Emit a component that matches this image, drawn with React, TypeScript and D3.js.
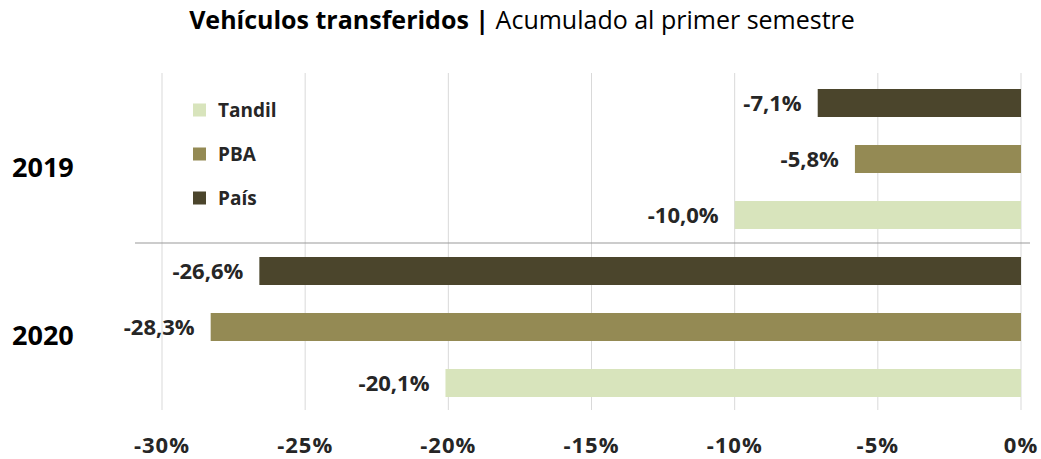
import React from "react";
import * as d3 from "d3";

// Data
const years = ["2019", "2020"];
const series = ["País", "PBA", "Tandil"];
const legendOrder = ["Tandil", "PBA", "País"];
const values2019 = [-7.1, -5.8, -10.0];
const values2020 = [-26.6, -28.3, -20.1];
const xTicks = [-30, -25, -20, -15, -10, -5, 0];

const colors: Record<string, string> = {
  "País": "#4b452c",
  PBA: "#948a54",
  Tandil: "#d8e4bc",
};

const font = "'Open Sans', Lato, sans-serif";
const textColor = "#262626";

const App = () => {
  const width = 1041;
  const height = 459;

  const rows = years.flatMap((yr, i) =>
    series.map((s, j) => ({
      year: yr,
      key: `${yr}-${s}`,
      series: s,
      value: (i === 0 ? values2019 : values2020)[j],
    }))
  );

  const x = d3.scaleLinear().domain([-30, 0]).range([162, 1021]);
  const y = d3
    .scaleBand()
    .domain(rows.map((d) => d.key))
    .range([75, 411])
    .paddingInner(0.5)
    .paddingOuter(0.25);

  const groupMid = (yr: string) => {
    const keys = series.map((s) => `${yr}-${s}`);
    return (y(keys[0])! + y(keys[2])! + y.bandwidth()) / 2;
  };
  const sepY = (y(`2019-Tandil`)! + y.bandwidth() + y(`2020-País`)!) / 2;
  const fmt = (v: number) => v.toFixed(1).replace(".", ",") + "%";

  return (
    <svg
      width={width}
      height={height}
      style={{ position: "absolute", left: 0, top: 0, background: "#fff" }}
    >
      {/* title */}
      <text
        x={522}
        y={29}
        textAnchor="middle"
        fontFamily={font}
        fontSize={25}
        fill="#000"
      >
        <tspan fontWeight="bold">Vehículos transferidos | </tspan>
        <tspan>Acumulado al primer semestre</tspan>
      </text>

      {/* gridlines */}
      {xTicks.map((t) => (
        <line
          key={t}
          x1={x(t)}
          x2={x(t)}
          y1={73}
          y2={410}
          stroke="#d9d9d9"
          strokeWidth={1}
        />
      ))}

      {/* group separator */}
      <line x1={135} x2={1030} y1={sepY} y2={sepY} stroke="#999" strokeWidth={1} />

      {/* bars */}
      {rows.map((d) => (
        <g key={d.key}>
          <rect
            x={x(d.value)}
            y={y(d.key)}
            width={x(0) - x(d.value)}
            height={y.bandwidth()}
            fill={colors[d.series]}
          />
          <text
            x={x(d.value) - 16}
            y={y(d.key)! + y.bandwidth() / 2}
            dy="0.36em"
            textAnchor="end"
            fontFamily={font}
            fontWeight="bold"
            fontSize={22}
            fill={textColor}
          >
            {fmt(d.value)}
          </text>
        </g>
      ))}

      {/* year labels */}
      {years.map((yr) => (
        <text
          key={yr}
          x={12}
          y={groupMid(yr) + 8}
          dy="0.36em"
          fontFamily={font}
          fontWeight="bold"
          fontSize={27}
          fill="#000"
        >
          {yr}
        </text>
      ))}

      {/* legend */}
      {legendOrder.map((s, i) => (
        <g key={s} transform={`translate(193,${110 + i * 44})`}>
          <rect x={0} y={-6.5} width={13} height={13} fill={colors[s]} />
          <text
            x={25}
            y={0}
            dy="0.36em"
            fontFamily={font}
            fontWeight="bold"
            fontSize={19}
            fill={textColor}
          >
            {s}
          </text>
        </g>
      ))}

      {/* x axis labels */}
      {xTicks.map((t) => (
        <text
          key={t}
          x={x(t)}
          y={453}
          textAnchor="middle"
          fontFamily={font}
          fontWeight="bold"
          fontSize={22}
          letterSpacing={1}
          fill={textColor}
        >
          {t}%
        </text>
      ))}
    </svg>
  );
};

export default App;
